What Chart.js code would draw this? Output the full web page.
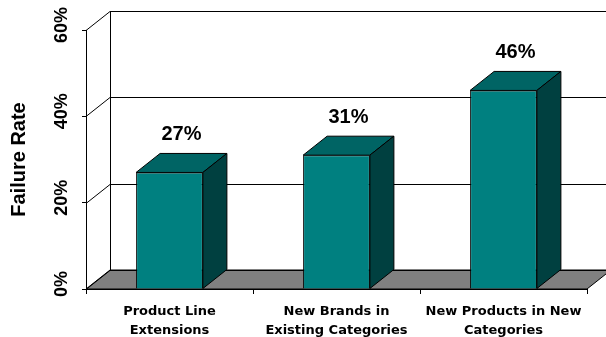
<!DOCTYPE html>
<html lang="en">
<head>
<meta charset="UTF-8">
<title>Failure Rate</title>
<script src="https://cdn.jsdelivr.net/npm/chart.js"></script>
<style>
  body { margin: 0; background: #fff; }
</style>
</head>
<body>
<canvas id="chart" width="606" height="337"></canvas>
<script>
const categories = [["Product Line", "Extensions"], ["New Brands in", "Existing Categories"], ["New Products in New", "Categories"]];
const failureRate = [27, 31, 46];
const yTicks = [0, 20, 40, 60];

// depth of the fake 3d box
const depthX = 24;
const depthY = -19;
const arial = "'Liberation Sans', Arial, sans-serif";
const wide = "'DejaVu Sans', Verdana, sans-serif";

const box3d = {
    id: "box3d",
    beforeDatasetsDraw(chart) {
        const { ctx, chartArea: a, scales: { y } } = chart;
        ctx.save();
        ctx.strokeStyle = "#000";
        ctx.lineWidth = 1;

        // floor
        ctx.fillStyle = "#808080";
        ctx.beginPath();
        ctx.moveTo(a.left, a.bottom);
        ctx.lineTo(a.right, a.bottom);
        ctx.lineTo(a.right + depthX, a.bottom + depthY);
        ctx.lineTo(a.left + depthX, a.bottom + depthY);
        ctx.closePath();
        ctx.fill();
        ctx.stroke();

        // back wall grid
        ctx.beginPath();
        yTicks.forEach(v => {
            const py = Math.round(y.getPixelForValue(v)) + 0.5;
            ctx.moveTo(a.left, py);
            ctx.lineTo(a.left + depthX, py + depthY);
            ctx.lineTo(chart.width, py + depthY);
        });
        const bx = Math.round(a.left + depthX) + 0.5;
        ctx.moveTo(bx, a.top + depthY);
        ctx.lineTo(bx, a.bottom + depthY);
        ctx.stroke();
        ctx.restore();
    },
    afterDatasetsDraw(chart) {
        const { ctx } = chart;
        const meta = chart.getDatasetMeta(0);
        ctx.save();
        ctx.strokeStyle = "#000";
        ctx.lineWidth = 1;
        meta.data.forEach((bar, i) => {
            const l = bar.x - bar.width / 2;
            const r = bar.x + bar.width / 2;
            const t = bar.y;
            const b = bar.base;

            // top
            ctx.fillStyle = "#006464";
            ctx.beginPath();
            ctx.moveTo(l, t);
            ctx.lineTo(r, t);
            ctx.lineTo(r + depthX, t + depthY);
            ctx.lineTo(l + depthX, t + depthY);
            ctx.closePath();
            ctx.fill();
            ctx.stroke();

            // side
            ctx.fillStyle = "#004040";
            ctx.beginPath();
            ctx.moveTo(r, t);
            ctx.lineTo(r + depthX, t + depthY);
            ctx.lineTo(r + depthX, b + depthY);
            ctx.lineTo(r, b);
            ctx.closePath();
            ctx.fill();
            ctx.stroke();

            // value label
            ctx.fillStyle = "#000";
            ctx.font = "bold 20px " + arial;
            ctx.textAlign = "center";
            ctx.textBaseline = "bottom";
            ctx.fillText(failureRate[i] + "%", bar.x + depthX / 2, t + depthY - 9);
        });
        ctx.restore();
    }
};

new Chart(document.getElementById("chart"), {
    type: "bar",
    data: {
        labels: categories,
        datasets: [{
            data: failureRate,
            backgroundColor: "#008080",
            borderColor: "#000",
            borderWidth: 1,
            categoryPercentage: 1,
            barPercentage: 0.4
        }]
    },
    options: {
        responsive: false,
        animation: false,
        devicePixelRatio: 1,
        layout: { padding: { left: 3, right: 19, top: 30, bottom: 0 } },
        plugins: {
            legend: { display: false },
            tooltip: { enabled: false }
        },
        scales: {
            x: {
                afterFit: s => { s.height = 48; },
                grid: { drawOnChartArea: false, offset: true, tickLength: 5, color: "#000" },
                border: { display: true, color: "#000" },
                ticks: {
                    color: "#000",
                    maxRotation: 0,
                    padding: 9,
                    font: { family: wide, weight: "bold", size: 13, lineHeight: 1.4 }
                }
            },
            y: {
                min: 0,
                max: 60,
                afterFit: s => { s.width = 83; },
                afterBuildTicks: scale => { scale.ticks = yTicks.map(v => ({ value: v })); },
                grid: { drawOnChartArea: false, tickLength: 4, color: "#000" },
                border: { display: true, color: "#000" },
                ticks: {
                    color: "#000",
                    minRotation: 90,
                    maxRotation: 90,
                    crossAlign: "center",
                    padding: 2,
                    labelOffset: -5,
                    callback: v => v + "%",
                    font: { family: arial, weight: "bold", size: 18 }
                },
                title: {
                    display: true,
                    text: "Failure Rate",
                    color: "#000",
                    padding: { top: 4, bottom: 15 },
                    font: { family: arial, weight: "bold", size: 20 }
                }
            }
        }
    },
    plugins: [box3d]
});
</script>
</body>
</html>
